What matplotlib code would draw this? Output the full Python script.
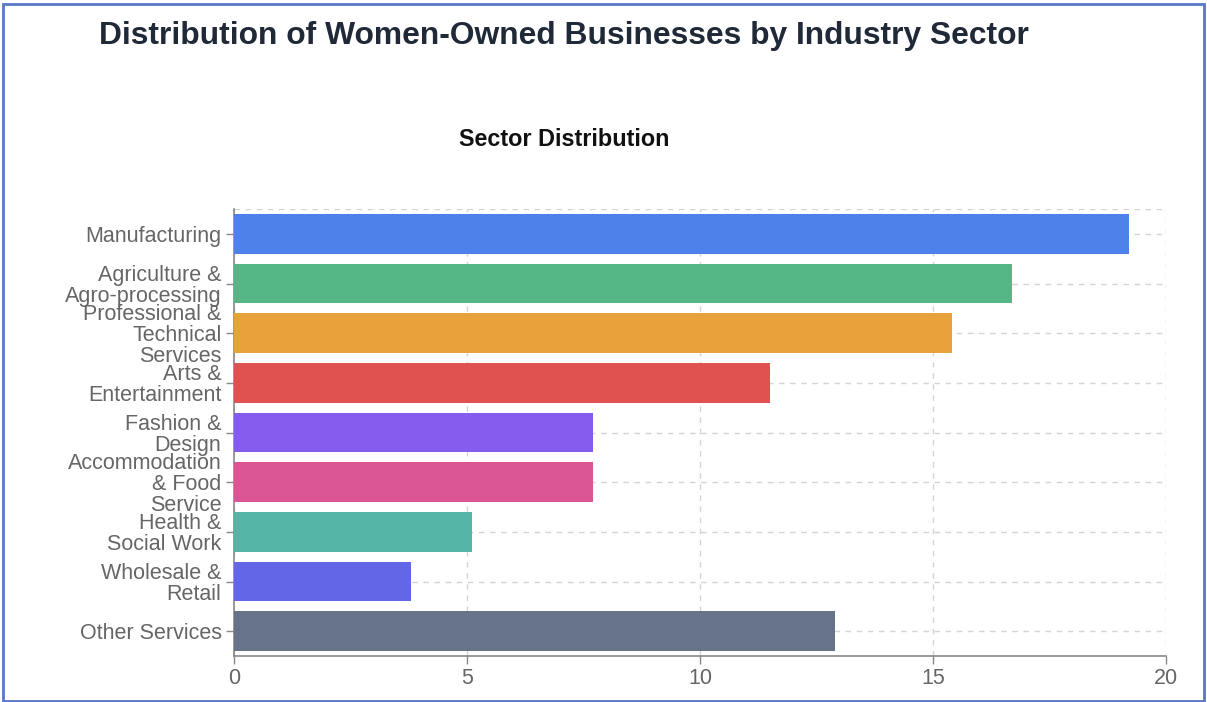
import matplotlib.pyplot as plt
from matplotlib.patches import Rectangle
import numpy as np

# Sector shares (%) of women-owned businesses
sectors = ['Manufacturing', 'Agriculture &\nAgro-processing', 'Professional &\nTechnical\nServices',
           'Arts &\nEntertainment', 'Fashion &\nDesign', 'Accommodation\n& Food\nService',
           'Health &\nSocial Work', 'Wholesale &\nRetail', 'Other Services']
shares = [19.2, 16.7, 15.4, 11.5, 7.7, 7.7, 5.1, 3.8, 12.9]
colors = ['#4f81eb', '#55b785', '#e9a13b', '#df524f', '#865cee',
          '#da5594', '#54b5a6', '#6466e8', '#667389']
x_ticks = [0, 5, 10, 15, 20]

plt.rcParams['font.family'] = ['Liberation Sans', 'DejaVu Sans']

fig = plt.figure(figsize=(12.07, 7.02), dpi=100)
ax = fig.add_axes([234 / 1207, 1 - 656 / 702, (1166 - 234) / 1207, (656 - 209) / 702])

y = np.arange(len(sectors))
ax.barh(y, shares, height=0.8, color=colors, zorder=3)

ax.set_ylim(len(sectors) - 0.5, -0.5)
ax.set_xlim(0, 20)
ax.set_yticks(y)
ax.set_yticklabels(sectors, fontsize=15.5, color='#666666', linespacing=0.98)
ax.set_xticks(x_ticks)
ax.set_xticklabels([str(t) for t in x_ticks], fontsize=15.5, color='#666666')
ax.tick_params(axis='both', colors='#888888', length=6, width=1, labelcolor='#666666')
ax.tick_params(axis='x', pad=3)
ax.tick_params(axis='y', pad=3)

# dashed grid on both axes, solid axis lines on left and bottom
ax.grid(True, linestyle=(0, (4, 4)), color='#d4d4d4', linewidth=1, zorder=0)
ax.axhline(-0.5, linestyle=(0, (4, 4)), color='#d4d4d4', linewidth=1, zorder=0)
for side in ['top', 'right']:
    ax.spines[side].set_visible(False)
for side in ['left', 'bottom']:
    ax.spines[side].set_color('#888888')
    ax.spines[side].set_linewidth(1.2)

fig.text(99 / 1207, 1 - 36 / 702, 'Distribution of Women-Owned Businesses by Industry Sector',
         fontsize=22.9, fontweight='bold', color='#1f2937', ha='left', va='center')
fig.text(564 / 1207, 1 - 140 / 702, 'Sector Distribution',
         fontsize=16.8, fontweight='bold', color='#111111', ha='center', va='center')

# outer frame of the card
fig.patches.append(Rectangle((3 / 1207, 1 / 702), 1 - 6 / 1207, 1 - 5 / 702, transform=fig.transFigure,
                             fill=False, edgecolor='#5b78c6', linewidth=2))

fig.savefig('out.png', dpi=100)
